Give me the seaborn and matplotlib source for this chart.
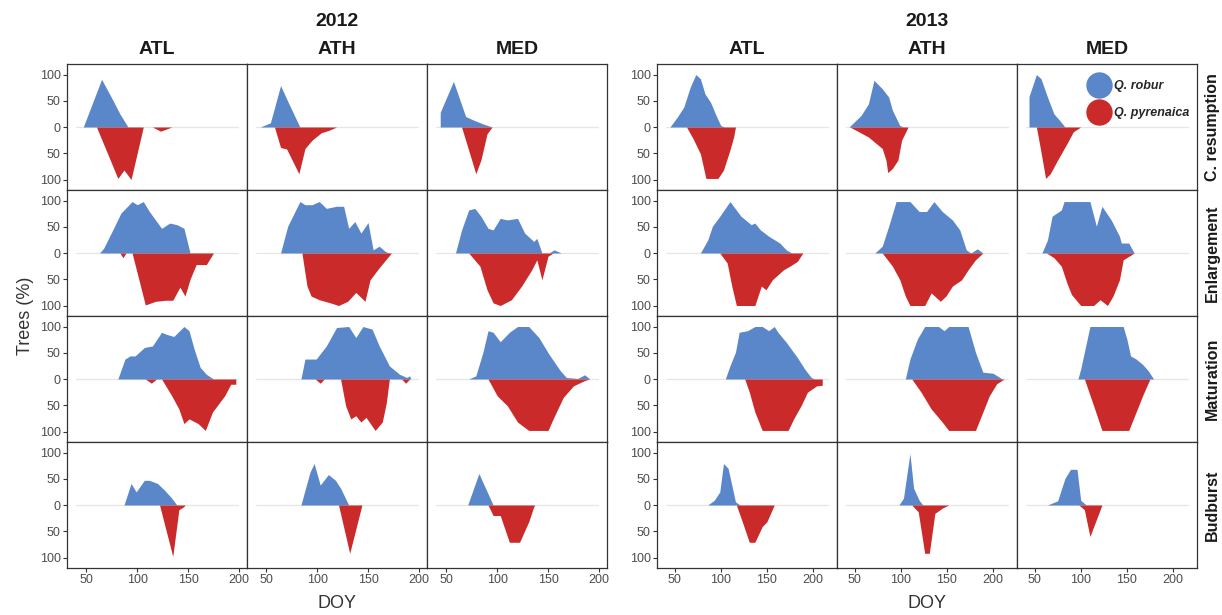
import numpy as np
import pandas as pd
import seaborn as sns
import matplotlib.pyplot as plt
from matplotlib.lines import Line2D

years = ["2012", "2013"]
sites = ["ATL", "ATH", "MED"]
stages = ["C. resumption", "Enlargement", "Maturation", "Budburst"]
species = ["Q. robur", "Q. pyrenaica"]
y_ticks = [-100, -50, 0, 50, 100]
y_tick_labels = ["100", "50", "0", "50", "100"]
x_ticks = [50, 100, 150, 200]

# (DOY, % of trees); Q. pyrenaica is drawn downwards
# ---- 2012 ----
rob_12_cres_atl = [(47, 0), (65, 91), (75, 55), (83, 25), (91, 0)]
pyr_12_cres_atl = [(60, 0), (81, 98), (87, 82), (94, 100), (106, 0), (115, 0), (123, 8), (134, 0)]
rob_12_cres_ath = [(44, 0), (54, 8), (64, 79), (72, 45), (83, 0)]
pyr_12_cres_ath = [(58, 0), (64, 39), (70, 42), (82, 89), (88, 41), (95, 25), (104, 11), (112, 6), (119, 0)]
rob_12_cres_med = [(44, 28), (57, 87), (69, 20), (77, 13), (86, 6), (95, 0)]
pyr_12_cres_med = [(65, 0), (79, 89), (84, 63), (90, 13), (95, 0)]

rob_12_enl_atl = [(63, 0), (67, 9), (76, 44), (84, 76), (95, 98), (100, 92), (106, 98), (112, 79), (124, 47),
                  (132, 57), (139, 54), (146, 47), (152, 0)]
pyr_12_enl_atl = [(83, 0), (86, 9), (89, 0), (95, 0), (108, 99), (118, 92), (128, 90), (135, 90), (142, 65),
                  (147, 82), (152, 50), (158, 22), (168, 22), (175, 0)]
rob_12_enl_ath = [(64, 0), (71, 51), (83, 98), (88, 92), (95, 92), (102, 98), (109, 85), (119, 89), (126, 89),
                  (131, 47), (137, 60), (143, 38), (150, 58), (155, 6), (161, 13), (167, 3), (171, 0)]
pyr_12_enl_ath = [(85, 0), (90, 63), (94, 82), (102, 89), (113, 95), (121, 100), (130, 92), (138, 75),
                  (147, 92), (152, 51), (161, 28), (173, 0)]
rob_12_enl_med = [(59, 0), (65, 44), (72, 82), (78, 85), (84, 70), (91, 47), (96, 44), (103, 66), (110, 63),
                  (120, 66), (127, 38), (136, 22), (139, 28), (144, 0), (151, 0), (156, 6), (163, 0)]
pyr_12_enl_med = [(72, 0), (83, 25), (90, 70), (96, 95), (103, 100), (114, 89), (124, 63), (134, 32),
                  (139, 13), (144, 51), (150, 6), (155, 0)]

rob_12_mat_atl = [(81, 0), (88, 38), (93, 44), (98, 44), (107, 60), (115, 63), (124, 89), (129, 85), (136, 81),
                  (146, 100), (151, 92), (156, 57), (162, 22), (168, 9), (175, 0)]
pyr_12_mat_atl = [(108, 0), (114, 8), (119, 0), (124, 0), (134, 32), (141, 57), (146, 85), (151, 76),
                  (160, 85), (167, 98), (174, 63), (186, 32), (192, 10), (197, 10)]
rob_12_mat_ath = [(84, 0), (88, 38), (99, 38), (109, 63), (119, 98), (131, 100), (138, 79), (145, 100),
                  (154, 95), (161, 63), (171, 25), (181, 9), (188, 3), (191, 6), (192, 0)]
pyr_12_mat_ath = [(98, 0), (103, 8), (107, 0), (123, 0), (128, 51), (133, 76), (138, 70), (143, 82),
                  (148, 73), (157, 98), (164, 82), (168, 45), (171, 0), (183, 0), (187, 8), (191, 0)]
rob_12_mat_med = [(72, 0), (79, 6), (86, 51), (91, 92), (96, 89), (103, 71), (112, 89), (120, 100),
                  (131, 100), (141, 79), (151, 47), (162, 16), (168, 3), (179, 1), (186, 8), (191, 0)]
pyr_12_mat_med = [(91, 0), (100, 32), (110, 51), (120, 82), (131, 98), (150, 98), (155, 76), (165, 35),
                  (175, 13), (186, 3), (191, 0)]

rob_12_bud_atl = [(87, 0), (94, 41), (99, 25), (107, 47), (112, 47), (120, 41), (127, 28), (134, 13), (139, 0)]
pyr_12_bud_atl = [(122, 0), (135, 98), (141, 9), (146, 3), (147, 0)]
rob_12_bud_ath = [(84, 0), (93, 63), (97, 79), (103, 38), (111, 58), (118, 47), (123, 32), (131, 0)]
pyr_12_bud_ath = [(121, 0), (132, 92), (144, 0)]
rob_12_bud_med = [(71, 0), (82, 60), (96, 0)]
pyr_12_bud_med = [(91, 0), (96, 20), (103, 20), (112, 71), (122, 71), (131, 32), (136, 3), (137, 0)]

# ---- 2013 ----
rob_13_cres_atl = [(45, 0), (53, 19), (60, 38), (67, 76), (73, 100), (78, 92), (83, 63), (89, 47), (95, 22),
                   (100, 3), (104, 0)]
pyr_13_cres_atl = [(63, 0), (70, 22), (78, 51), (84, 98), (97, 98), (103, 82), (110, 44), (114, 19), (116, 0)]
rob_13_cres_ath = [(44, 0), (57, 22), (65, 44), (71, 89), (80, 73), (87, 57), (91, 32), (99, 3), (103, 0)]
pyr_13_cres_ath = [(45, 0), (65, 19), (80, 41), (84, 63), (86, 87), (91, 79), (97, 63), (101, 25), (108, 0)]
rob_13_cres_med = [(44, 58), (52, 100), (57, 92), (64, 57), (71, 25), (77, 13), (83, 0)]
pyr_13_cres_med = [(52, 0), (56, 38), (62, 98), (67, 89), (75, 63), (85, 32), (92, 9), (100, 0)]

rob_13_enl_atl = [(78, 0), (86, 25), (91, 51), (99, 70), (110, 98), (122, 70), (133, 54), (137, 57), (143, 44),
                  (152, 32), (164, 19), (171, 6), (177, 0)]
pyr_13_enl_atl = [(99, 0), (107, 19), (112, 63), (117, 100), (137, 100), (144, 63), (149, 70), (156, 51),
                  (168, 32), (175, 25), (183, 16), (189, 0)]
rob_13_enl_ath = [(72, 0), (80, 13), (87, 51), (95, 98), (110, 98), (120, 79), (128, 79), (136, 98), (145, 79),
                  (156, 63), (164, 44), (171, 6), (176, 0), (183, 8), (189, 0)]
pyr_13_enl_ath = [(80, 0), (91, 25), (99, 51), (105, 82), (110, 100), (126, 100), (133, 76), (143, 92),
                  (149, 82), (156, 63), (166, 51), (173, 32), (181, 13), (189, 0)]
rob_13_enl_med = [(58, 0), (64, 25), (69, 70), (79, 82), (82, 98), (110, 98), (117, 51), (123, 89), (133, 63),
                  (142, 32), (144, 19), (152, 19), (158, 0)]
pyr_13_enl_med = [(63, 0), (71, 9), (79, 25), (85, 57), (90, 79), (100, 100), (114, 100), (121, 89),
                  (129, 100), (135, 82), (142, 51), (146, 13), (158, 0)]

rob_13_mat_atl = [(105, 0), (110, 25), (116, 51), (120, 89), (129, 92), (137, 100), (145, 100), (152, 92),
                  (158, 100), (162, 89), (171, 70), (183, 41), (191, 19), (198, 3), (202, 0)]
pyr_13_mat_atl = [(126, 0), (131, 25), (137, 63), (145, 98), (173, 98), (179, 76), (187, 51), (194, 25),
                  (204, 13), (210, 12)]
rob_13_mat_ath = [(105, 0), (110, 38), (118, 76), (126, 100), (141, 100), (147, 92), (152, 100), (173, 100),
                  (181, 51), (189, 13), (200, 11), (210, 0)]
pyr_13_mat_ath = [(112, 0), (122, 25), (133, 57), (145, 82), (152, 98), (181, 98), (189, 63), (196, 32),
                  (204, 9), (212, 0)]
rob_13_mat_med = [(97, 0), (100, 19), (110, 100), (146, 100), (150, 76), (154, 44), (160, 38), (167, 28),
                  (173, 16), (179, 0)]
pyr_13_mat_med = [(104, 0), (114, 51), (123, 98), (152, 98), (160, 63), (167, 32), (175, 0)]

rob_13_bud_atl = [(86, 0), (93, 9), (99, 25), (103, 79), (108, 70), (112, 38), (116, 6), (121, 0)]
pyr_13_bud_atl = [(117, 0), (124, 35), (131, 71), (137, 71), (145, 41), (150, 32), (158, 0)]
rob_13_bud_ath = [(98, 0), (103, 13), (110, 98), (114, 32), (120, 9), (124, 0)]
pyr_13_bud_ath = [(112, 0), (119, 13), (126, 92), (131, 92), (137, 16), (145, 6), (152, 0)]
rob_13_bud_med = [(64, 0), (75, 8), (83, 51), (89, 68), (96, 68), (100, 9), (106, 0)]
pyr_13_bud_med = [(98, 0), (104, 9), (110, 60), (123, 0)]

panels = {
    ("2012", "C. resumption", "ATL"): (rob_12_cres_atl, pyr_12_cres_atl),
    ("2012", "C. resumption", "ATH"): (rob_12_cres_ath, pyr_12_cres_ath),
    ("2012", "C. resumption", "MED"): (rob_12_cres_med, pyr_12_cres_med),
    ("2012", "Enlargement", "ATL"): (rob_12_enl_atl, pyr_12_enl_atl),
    ("2012", "Enlargement", "ATH"): (rob_12_enl_ath, pyr_12_enl_ath),
    ("2012", "Enlargement", "MED"): (rob_12_enl_med, pyr_12_enl_med),
    ("2012", "Maturation", "ATL"): (rob_12_mat_atl, pyr_12_mat_atl),
    ("2012", "Maturation", "ATH"): (rob_12_mat_ath, pyr_12_mat_ath),
    ("2012", "Maturation", "MED"): (rob_12_mat_med, pyr_12_mat_med),
    ("2012", "Budburst", "ATL"): (rob_12_bud_atl, pyr_12_bud_atl),
    ("2012", "Budburst", "ATH"): (rob_12_bud_ath, pyr_12_bud_ath),
    ("2012", "Budburst", "MED"): (rob_12_bud_med, pyr_12_bud_med),
    ("2013", "C. resumption", "ATL"): (rob_13_cres_atl, pyr_13_cres_atl),
    ("2013", "C. resumption", "ATH"): (rob_13_cres_ath, pyr_13_cres_ath),
    ("2013", "C. resumption", "MED"): (rob_13_cres_med, pyr_13_cres_med),
    ("2013", "Enlargement", "ATL"): (rob_13_enl_atl, pyr_13_enl_atl),
    ("2013", "Enlargement", "ATH"): (rob_13_enl_ath, pyr_13_enl_ath),
    ("2013", "Enlargement", "MED"): (rob_13_enl_med, pyr_13_enl_med),
    ("2013", "Maturation", "ATL"): (rob_13_mat_atl, pyr_13_mat_atl),
    ("2013", "Maturation", "ATH"): (rob_13_mat_ath, pyr_13_mat_ath),
    ("2013", "Maturation", "MED"): (rob_13_mat_med, pyr_13_mat_med),
    ("2013", "Budburst", "ATL"): (rob_13_bud_atl, pyr_13_bud_atl),
    ("2013", "Budburst", "ATH"): (rob_13_bud_ath, pyr_13_bud_ath),
    ("2013", "Budburst", "MED"): (rob_13_bud_med, pyr_13_bud_med),
}

# long table, pyrenaica mirrored below zero
rows = []
for (yr, stg, site), (rob, pyr) in panels.items():
    for d, v in rob:
        rows.append((yr, stg, site, species[0], d, v))
    for d, v in pyr:
        rows.append((yr, stg, site, species[1], d, -v))
df = pd.DataFrame(rows, columns=["year", "stage", "site", "species", "doy", "trees"])

sns.set_theme(style="white")
plt.rcParams["font.family"] = ["Liberation Sans", "DejaVu Sans"]

colors = {"Q. robur": "#5A87C9", "Q. pyrenaica": "#CB2A2A"}
xlims = {"2012": (31, 208), "2013": (31, 226)}

W, H = 1222, 615
block_left = {"2012": 67, "2013": 657}
top, row_h, col_w = 64, 126, 180

fig = plt.figure(figsize=(W / 100, H / 100), dpi=100)

for yr in years:
    bl = block_left[yr]
    for r, stg in enumerate(stages):
        for c, site in enumerate(sites):
            ax = fig.add_axes([(bl + c * col_w) / W, 1 - (top + (r + 1) * row_h) / H,
                               col_w / W, row_h / H])
            ax.axhline(0, xmin=0.05, xmax=0.95, color="#e6e6e6", lw=0.9, zorder=0)
            sub = df[(df.year == yr) & (df.stage == stg) & (df.site == site)]
            for sp in species:
                s = sub[sub.species == sp]
                ax.fill_between(s.doy, 0, s.trees, color=colors[sp], lw=0, zorder=2)
            ax.set_xlim(*xlims[yr])
            ax.set_ylim(-120, 120)
            ax.set_xticks(x_ticks)
            ax.set_yticks(y_ticks)
            ax.set_yticklabels(y_tick_labels)
            ax.tick_params(length=3, width=0.8, color="#333333", labelcolor="#4d4d4d",
                           labelsize=9, pad=1.5,
                           left=(c == 0), labelleft=(c == 0),
                           bottom=(r == 3), labelbottom=(r == 3))
            for sp_ in ax.spines.values():
                sp_.set_color("#333333")
                sp_.set_linewidth(0.9)
            ax.set_facecolor("white")

            if yr == "2013" and r == 0 and c == 2:
                handles = [Line2D([], [], marker="o", ls="", ms=18, color=colors[sp]) for sp in species]
                ax.legend(handles, species, loc="upper left", bbox_to_anchor=(0.40, 0.87),
                          frameon=False, handlelength=1.6, handletextpad=0.4, labelspacing=1.2,
                          borderaxespad=0, borderpad=0,
                          prop={"style": "italic", "weight": "bold", "size": 9})

    fig.text((bl + 270) / W, 1 - 22 / H, yr, ha="center", va="center", fontsize=14,
             fontweight="bold", color="#1a1a1a")
    for c, site in enumerate(sites):
        fig.text((bl + c * col_w + 90) / W, 1 - 50 / H, site, ha="center", va="center",
                 fontsize=14, fontweight="bold", color="#1a1a1a")
    fig.text((bl + 270) / W, 1 - 604 / H, "DOY", ha="center", va="center", fontsize=13,
             color="#333333")

for r, stg in enumerate(stages):
    fig.text(1212 / W, 1 - (top + r * row_h + row_h / 2) / H, stg, rotation=90,
             ha="center", va="center", fontsize=11.5, fontweight="bold", color="#1a1a1a")

fig.text(25 / W, 1 - 316 / H, "Trees (%)", rotation=90, ha="center", va="center",
         fontsize=13, color="#333333")

fig.savefig("out.png", dpi=100, facecolor="white")
